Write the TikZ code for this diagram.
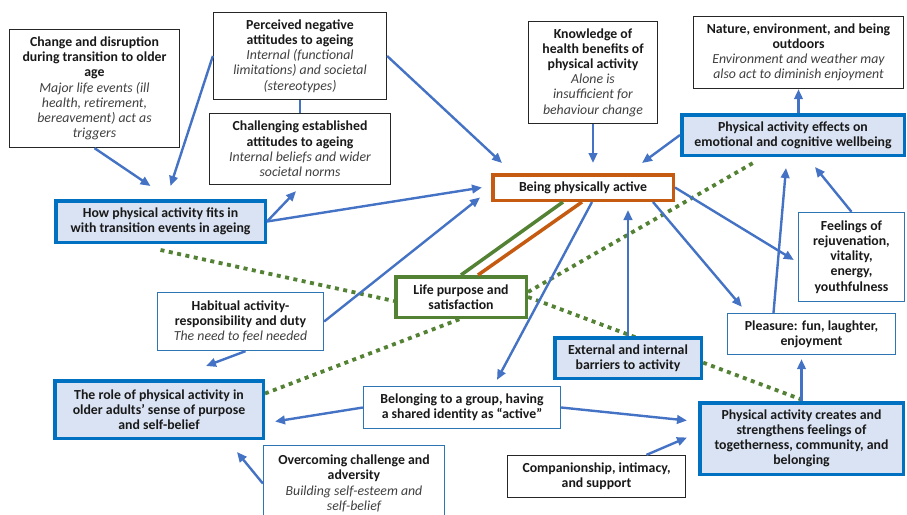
\documentclass[tikz,border=0pt]{standalone}
\usepackage{fontspec}
\setmainfont{Carlito}
\usepackage{tikz}
\usetikzlibrary{arrows.meta,backgrounds}

\definecolor{ThemeBlue}{HTML}{0070C0}
\definecolor{ThemeFill}{HTML}{DAE3F3}
\definecolor{SubBlue}{HTML}{2E75B6}
\definecolor{ArrowBlue}{HTML}{4472C4}
\definecolor{CoreOrange}{HTML}{C55A11}
\definecolor{PurposeGreen}{HTML}{548235}

\newcommand{\Note}[1]{{\mdseries\itshape\color{black!75}#1}}

\begin{document}
\begin{tikzpicture}[x=1pt, y=-1pt]
			\tikzstyle{Box}		= [rectangle, align=center, inner sep=1pt, fill=white, text=black!90, font=\fontsize{13.8}{15.2}\selectfont\bfseries]
			\tikzstyle{Plain}	= [Box, draw=black!85, line width=1.3pt]
			\tikzstyle{Sub}		= [Box, draw=SubBlue, line width=1.3pt]
			\tikzstyle{Theme}	= [Box, draw=ThemeBlue, fill=ThemeFill, line width=3.5pt]
			\tikzstyle{Core}	= [Box, draw=CoreOrange, line width=3.5pt]
			\tikzstyle{Purpose}	= [Box, draw=PurposeGreen, line width=3.5pt]
			\tikzstyle{Arrow}	= [draw=ArrowBlue, line width=2.4pt, -{Triangle[length=10pt,width=8.5pt]}]
			\tikzstyle{Link}	= [draw=PurposeGreen, line width=3.8pt, dash pattern=on 4pt off 4.5pt]
			\tikzstyle{Tie}		= [line width=3.5pt]

			\useasboundingbox (0,0) rectangle (907,514);
			\clip (0,0) rectangle (907,514);

			% outer boxes
			\node (change) at (94.5, 88.5) [Plain][minimum width=170pt, minimum height=118pt] {Change and disruption\\during transition to older\\age\\\Note{Major life events (ill}\\\Note{health, retirement,}\\\Note{bereavement) act as}\\\Note{triggers}};
			\node (perceived) at (300, 56) [Plain][minimum width=173pt, minimum height=87pt] {Perceived negative\\attitudes to ageing\\\Note{Internal (functional}\\\Note{limitations) and societal}\\\Note{(stereotypes)}};
			\node (challenging) at (300, 149) [Plain][minimum width=181pt, minimum height=71pt] {Challenging established\\attitudes to ageing\\\Note{Internal beliefs and wider}\\\Note{societal norms}};
			\node (knowledge) at (593, 72.5) [Plain][minimum width=129pt, minimum height=102pt] {Knowledge of\\health benefits of\\physical activity\\\Note{Alone is}\\\Note{insufficient for}\\\Note{behaviour change}};
			\node (nature) at (798.5, 52.5) [Plain][minimum width=210pt, minimum height=72pt] {Nature, environment, and being\\outdoors\\\Note{Environment and weather may}\\\Note{also act to diminish enjoyment}};
			\node (companionship) at (596.5, 476.5) [Plain][minimum width=178pt, minimum height=42pt] {Companionship, intimacy,\\and support};

			\node (feelings) at (851.5, 257) [Sub][minimum width=106pt, minimum height=89pt] {Feelings of\\rejuvenation,\\vitality,\\energy,\\youthfulness};
			\node (habitual) at (240.5, 321.5) [Sub][minimum width=166pt, minimum height=58pt] {Habitual activity-\\responsibility and duty\\\Note{The need to feel needed}};
			\node (pleasure) at (811.5, 334) [Sub][minimum width=168pt, minimum height=41pt] {Pleasure: fun, laughter,\\enjoyment};
			\node (belonging) at (462, 407.5) [Sub][minimum width=197pt, minimum height=42pt] {Belonging to a group, having\\a shared identity as “active”};
			\node (overcoming) at (354, 483.5) [Sub][minimum width=181pt, minimum height=76pt] {Overcoming challenge and\\adversity\\\Note{Building self-esteem and}\\\Note{self-belief}};

			% themes
			\node (howfits) at (160.5, 221.5) [Theme][minimum width=209.5pt, minimum height=41.5pt] {How physical activity fits in\\with transition events in ageing};
			\node (effects) at (793, 135) [Theme][minimum width=222.5pt, minimum height=40.5pt] {Physical activity effects on\\emotional and cognitive wellbeing};
			\node (barriers) at (628, 358) [Theme][minimum width=146.5pt, minimum height=40.5pt] {External and internal\\barriers to activity};
			\node (role) at (159, 409.5) [Theme][minimum width=208.5pt, minimum height=57.5pt] {The role of physical activity in\\older adults’ sense of purpose\\and self-belief};
			\node (pac) at (801.5, 438.5) [Theme][minimum width=203.5pt, minimum height=71.5pt] {Physical activity creates and\\strengthens feelings of\\togetherness, community, and\\belonging};

			\node (active) at (583, 187.5) [Core][minimum width=180.5pt, minimum height=25.5pt] {Being physically active};
			\node (lifepurpose) at (461, 297) [Purpose][minimum width=130.5pt, minimum height=40.5pt] {Life purpose and\\satisfaction};

			% dotted links to life purpose
			\begin{pgfonlayer}{background}
				\draw [Link] ([yshift=-6pt]howfits.south) to ([yshift=-4pt]lifepurpose.west);
				\draw [Link] (lifepurpose.east) to ([xshift=4pt]pac.north);
				\draw [Link] ([yshift=16pt]role.east) to ([xshift=-1pt]lifepurpose.south);
				\draw [Link] ([yshift=5pt]lifepurpose.east) to ([xshift=73pt,yshift=-6pt]effects.south west);
			\end{pgfonlayer}

			\draw [Tie, PurposeGreen] (lifepurpose.north) to ([xshift=-20pt]active.south);
			\draw [Tie, CoreOrange] ([xshift=17pt]lifepurpose.north) to ([xshift=-1pt]active.south);
			\draw [ArrowBlue, line width=1.8pt] (perceived.south) to (challenging.north);

			\draw [Arrow] (change.south) to ([xshift=-10pt,yshift=13pt]howfits.north);
			\draw [Arrow] (perceived.west) to ([xshift=10pt,yshift=13pt]howfits.north);
			\draw [Arrow] (perceived.east) to ([xshift=11pt,yshift=10pt]active.north west);
			\draw [Arrow, shorten >=10pt] (knowledge.south) to (knowledge.south |- active.north);
			\draw [Arrow] (effects.west) to ([xshift=-33pt,yshift=10pt]active.north east);
			\draw [Arrow] (nature.south |- effects.north) to (nature.south);
			\draw [Arrow] (howfits.east) to ([xshift=-4pt,yshift=-6pt]challenging.south);
			\draw [Arrow] (howfits.east) to ([xshift=-9pt]active.west);
			\draw [Arrow] (habitual.east) to ([xshift=-11pt,yshift=-10pt]active.west);
			\draw [Arrow] ([xshift=5pt]habitual.south) to ([xshift=47pt,yshift=13pt]role.north);
			\draw [Arrow] ([xshift=9pt]active.south) to ([xshift=35pt,yshift=6pt]belonging.north);
			\draw [Arrow, shorten >=8pt] (barriers.north) to (barriers.north |- active.south);
			\draw [Arrow] ([xshift=-22pt]active.south east) to ([xshift=15pt,yshift=6pt]pleasure.north west);
			\draw [Arrow] (active.east) to ([xshift=-4pt,yshift=-3pt]feelings.west);
			\draw [Arrow] ([xshift=-38pt]pleasure.north) to ([xshift=-7pt,yshift=-11pt]effects.south);
			\draw [Arrow] (feelings.north) to ([xshift=22pt,yshift=-10pt]effects.south);
			\draw [Arrow] (belonging.west) to ([xshift=10pt,yshift=-12pt]role.east);
			\draw [Arrow] (belonging.east) to ([xshift=-11pt,yshift=18pt]pac.west);
			\draw [Arrow, shorten >=4pt] (pac.north) to (pac.north |- pleasure.south);
			\draw [Arrow] ([xshift=50pt]companionship.north) to ([xshift=-11pt,yshift=1pt]pac.west);
			\draw [Arrow] (overcoming.west) to ([xshift=78pt,yshift=-12pt]role.south);
		\end{tikzpicture}
\end{document}
